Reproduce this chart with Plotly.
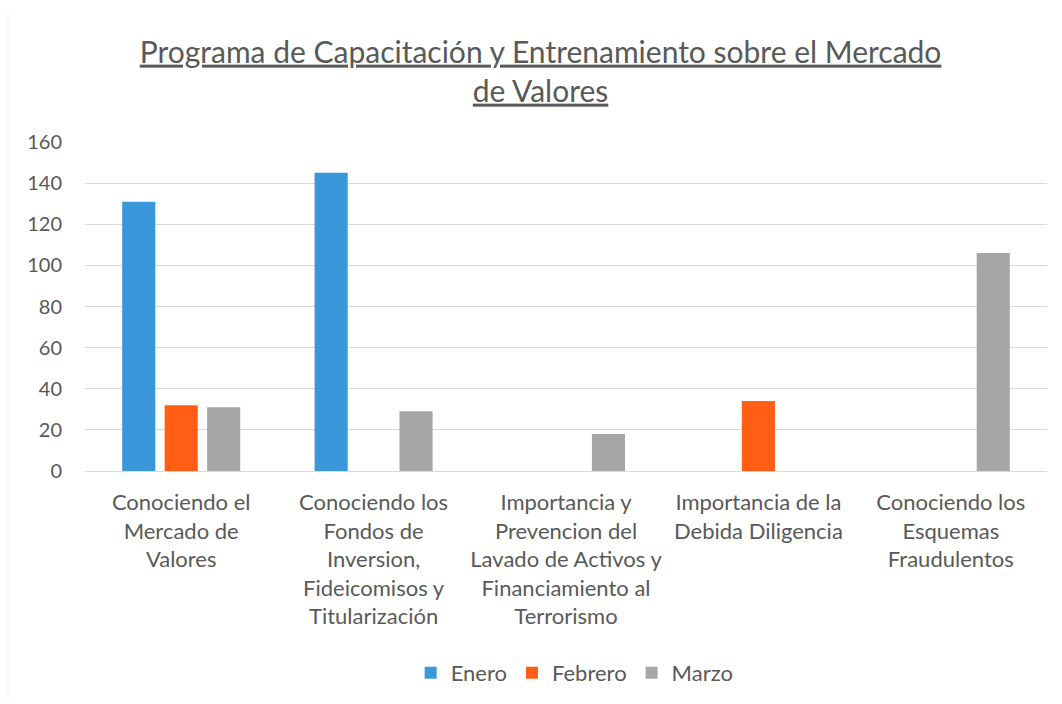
import plotly.graph_objects as go

categories = [
    "Conociendo el<br>Mercado de<br>Valores",
    "Conociendo los<br>Fondos de<br>Inversion,<br>Fideicomisos y<br>Titularización",
    "Importancia y<br>Prevencion del<br>Lavado de Activos y<br>Financiamiento al<br>Terrorismo",
    "Importancia de la<br>Debida Diligencia",
    "Conociendo los<br>Esquemas<br>Fraudulentos",
]
enero = [131, 145, 0, 0, 0]
febrero = [32, 0, 0, 34, 0]
marzo = [31, 29, 18, 0, 106]
series_names = ["Enero", "Febrero", "Marzo"]
colors = ["#3A97DA", "#FF5E14", "#A6A6A6"]
title_text = "<u>Programa de Capacitación y Entrenamiento sobre el Mercado</u><br><u>de Valores</u>"

FONT = "Lato"
TXT = "#595959"

fig = go.Figure()
for name, vals, col in zip(series_names, [enero, febrero, marzo], colors):
    fig.add_trace(go.Bar(x=categories, y=vals, name=name, marker=dict(color=col, line=dict(width=0))))

fig.update_layout(
    width=1062, height=704,
    margin=dict(l=85, r=15, t=142, b=232),
    paper_bgcolor="white", plot_bgcolor="white",
    barmode="group", bargap=0.338, bargroupgap=0.22,
    font=dict(family=FONT, color=TXT, size=20),
    title=dict(text=title_text, x=0.509, xanchor="center", y=0.911, yanchor="top",
               font=dict(family=FONT, size=30, color=TXT)),
    legend=dict(orientation="h", x=0.509, xanchor="center", y=-0.609, yanchor="middle",
                font=dict(family=FONT, size=22, color=TXT), traceorder="normal"),
    showlegend=True,
    shapes=[dict(type="line", xref="paper", yref="paper",
                 x0=-77 / 962, x1=-77 / 962, y0=-232 / 330 + 0.01, y1=1 + 130 / 330,
                 line=dict(color="#EDEDED", width=1))],
)
fig.update_xaxes(showgrid=False, showline=False, ticks="", tickangle=0, ticklabelstandoff=16,
                 tickfont=dict(family=FONT, size=22, color=TXT))
fig.update_yaxes(range=[0, 160], dtick=20, showgrid=True, gridcolor="#D9D9D9", gridwidth=1,
                 zeroline=True, zerolinecolor="#D9D9D9", zerolinewidth=1, showline=False,
                 ticks="", ticklabelstandoff=22,
                 tickfont=dict(family=FONT, size=20, color=TXT))

fig.write_html("out.html")
